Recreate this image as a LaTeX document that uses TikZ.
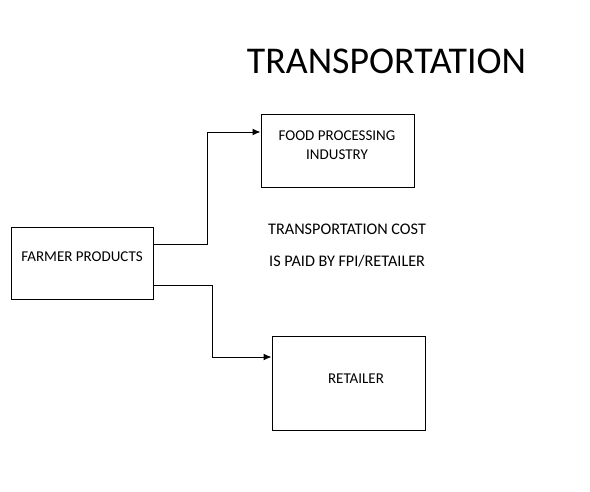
\documentclass[tikz,border=0pt]{standalone}
\usepackage{fontspec}
\setmainfont{Carlito}
\usetikzlibrary{arrows.meta}
\begin{document}
\begin{tikzpicture}[x=1pt,y=-1pt,
  box/.style={draw=black,line width=1pt,rectangle,inner sep=0pt},
  txt/.style={inner sep=0pt,font=\fontsize{15}{19}\selectfont},
  lbl/.style={inner sep=0pt,anchor=west,font=\fontsize{16.2}{19}\selectfont},
  conn/.style={draw=black,line width=1pt,-{Latex[length=8pt,width=7pt]}}]
\useasboundingbox (0,0) rectangle (590,491);
\fill[white] (0,0) rectangle (590,491);
% boxes
\node[box,minimum width=142pt,minimum height=72pt] (farmer) at (82,263) {};
\node[box,minimum width=153pt,minimum height=73pt] (fpi) at (337.5,150.5) {};
\node[box,minimum width=153pt,minimum height=94pt] (ret) at (348.5,383) {};
% texts
\node[inner sep=0pt,font=\fontsize{37.8}{44}\selectfont] (title) at (386.5,61) {TRANSPORTATION};
\node[txt,align=center] (fpitxt) at (337,145) {FOOD PROCESSING\\INDUSTRY};
\node[txt] (farmtxt) at (82,257) {FARMER PRODUCTS};
\node[txt] (rettxt) at (356,379) {RETAILER};
\node[lbl] (cost1) at (268,229) {TRANSPORTATION COST};
\node[lbl] (cost2) at (269,261) {IS PAID BY FPI/RETAILER};
% connectors
\coordinate (a1) at (farmer.east |- 0,244);
\coordinate (b1) at (fpi.west |- 0,132);
\draw[conn] (a1) -- (207,244) -- (207,132) -- (b1);
\coordinate (a2) at (farmer.east |- 0,285);
\coordinate (b2) at (ret.west |- 0,357);
\draw[conn] (a2) -- (212,285) -- (212,357) -- (b2);
\end{tikzpicture}
\end{document}
